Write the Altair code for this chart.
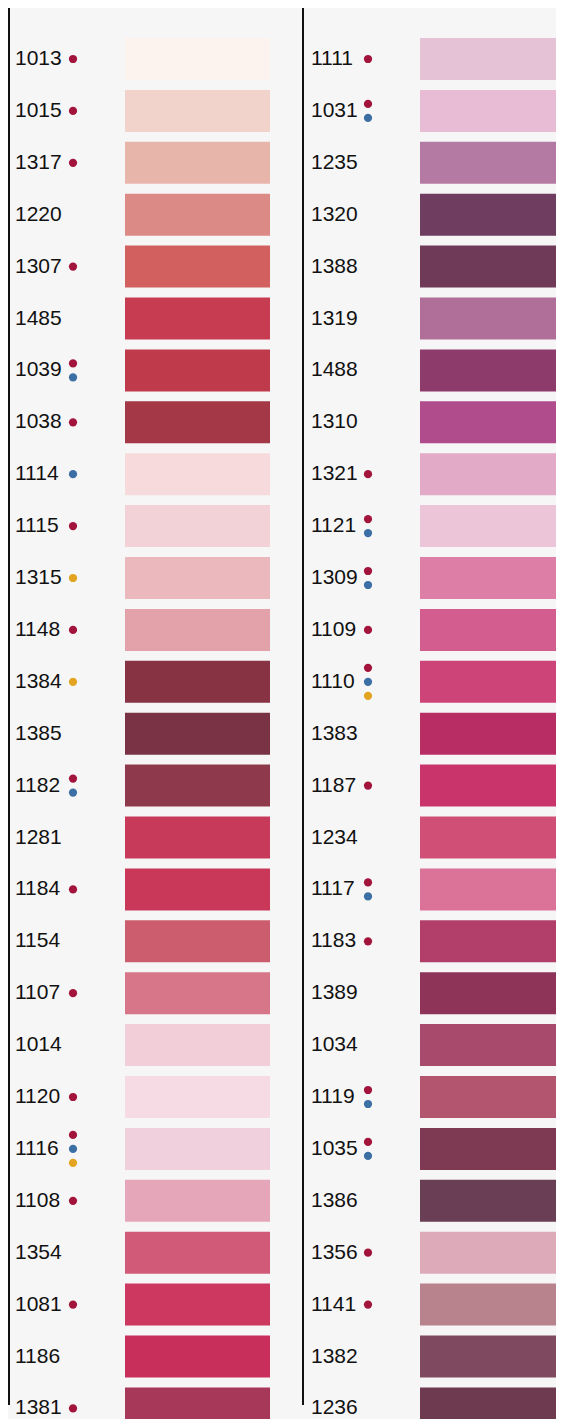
import altair as alt
import pandas as pd

# ---- data -------------------------------------------------------------
left_codes = ["1013", "1015", "1317", "1220", "1307", "1485", "1039", "1038", "1114",
              "1115", "1315", "1148", "1384", "1385", "1182", "1281", "1184", "1154",
              "1107", "1014", "1120", "1116", "1108", "1354", "1081", "1186", "1381"]
left_colors = ["#fcf3ef", "#f1d3cc", "#e8b5ab", "#dc8a85", "#d2605f", "#c83c52", "#bf3a4a",
               "#a53846", "#f7dadb", "#f2d2d6", "#ebb8bd", "#e3a2aa", "#873344", "#7a3345",
               "#8f3a4c", "#c83a5a", "#c93859", "#cc5d6e", "#d67688", "#f2cfd8", "#f6dbe4",
               "#f0d0dc", "#e5a6ba", "#d05a77", "#cc3860", "#c82f5b", "#a8385a"]
left_marks = ["R", "R", "R", "", "R", "", "RB", "R", "B",
              "R", "Y", "R", "Y", "", "RB", "", "R", "",
              "R", "", "R", "RBY", "R", "", "R", "", "R"]

right_codes = ["1111", "1031", "1235", "1320", "1388", "1319", "1488", "1310", "1321",
               "1121", "1309", "1109", "1110", "1383", "1187", "1234", "1117", "1183",
               "1389", "1034", "1119", "1035", "1386", "1356", "1141", "1382", "1236"]
right_colors = ["#e6c2d6", "#e8bcd5", "#b57aa3", "#6e3d60", "#6f3a57", "#b06f98", "#8c3b6a",
                "#b04b8c", "#e3aac8", "#ecc5d8", "#dd7ea6", "#d35d8f", "#cc4478", "#b82e64",
                "#c9356a", "#d04f76", "#db7398", "#b23e6a", "#8f3459", "#a84a6c", "#b45570",
                "#7e3a52", "#6a3f55", "#dcaab9", "#b8838c", "#7f4a60", "#6e3a50"]
right_marks = ["R", "RB", "", "", "", "", "", "", "R",
               "RB", "RB", "R", "RBY", "", "R", "", "RB", "R",
               "", "", "RB", "RB", "", "R", "R", "", ""]

mark_keys = ["R", "B", "Y"]
mark_colors = ["#a3143c", "#3c6fa4", "#e3a521"]

# ---- layout -----------------------------------------------------------
BG = "#f6f6f6"
W, H = 548, 1411
PITCH = 51.9          # px per row
TOP = 51.0            # px from top to first row centre
DOT_GAP = 14          # px between stacked dots
HALF = 0.405          # half swatch height in rows

yscale = alt.Scale(domain=[-TOP / PITCH, (H - TOP) / PITCH], reverse=True,
                   nice=False, zero=False)
Y = lambda f: alt.Y(f, scale=yscale, axis=None)


def column(codes, colors, marks, rule_x, label_x, dot_x, sw_x, sw_x2):
    sw = pd.DataFrame({"code": codes, "color": colors, "row": list(range(len(codes)))})
    dots = []
    for i, m in enumerate(marks):
        n = len(m)
        for k, ch in enumerate(m):
            dots.append({"row": i + (k - (n - 1) / 2) * DOT_GAP / PITCH, "dot": ch})
    dd = pd.DataFrame(dots)

    base = alt.Chart(sw)
    rects = base.transform_calculate(
        y0=f"datum.row - {HALF}", y1=f"datum.row + {HALF}"
    ).mark_rect(clip=True).encode(
        x=alt.value(sw_x), x2=alt.value(sw_x2),
        y=Y("y0:Q"), y2="y1:Q",
        color=alt.Color("color:N", scale=None),
    )
    labels = base.mark_text(align="left", baseline="middle", fontSize=21,
                            font="Liberation Sans", color="#111111", dy=0).encode(
        x=alt.value(label_x), y=Y("row:Q"), text="code:N",
    )
    dots_l = alt.Chart(dd).mark_circle(size=68, opacity=1).encode(
        x=alt.value(dot_x), y=Y("row:Q"),
        color=alt.Color("dot:N", scale=alt.Scale(domain=mark_keys, range=mark_colors),
                        legend=None),
    )
    rule = base.mark_rule(color="#111111", strokeWidth=2).encode(
        x=alt.value(rule_x), y=alt.value(0), y2=alt.value(1397)
    )
    return [rects, rule, labels, dots_l]


layers = (column(left_codes, left_colors, left_marks, 1, 7, 65, 117, 262)
          + column(right_codes, right_colors, right_marks, 295, 303, 360, 412, 548))

chart = alt.layer(*layers).properties(
    width=W, height=H, background=BG, padding=0,
    autosize=alt.AutoSizeParams(type="none"),
).configure_view(stroke=None)

chart.save("out.html", embed_options={"renderer": "svg", "actions": False})
